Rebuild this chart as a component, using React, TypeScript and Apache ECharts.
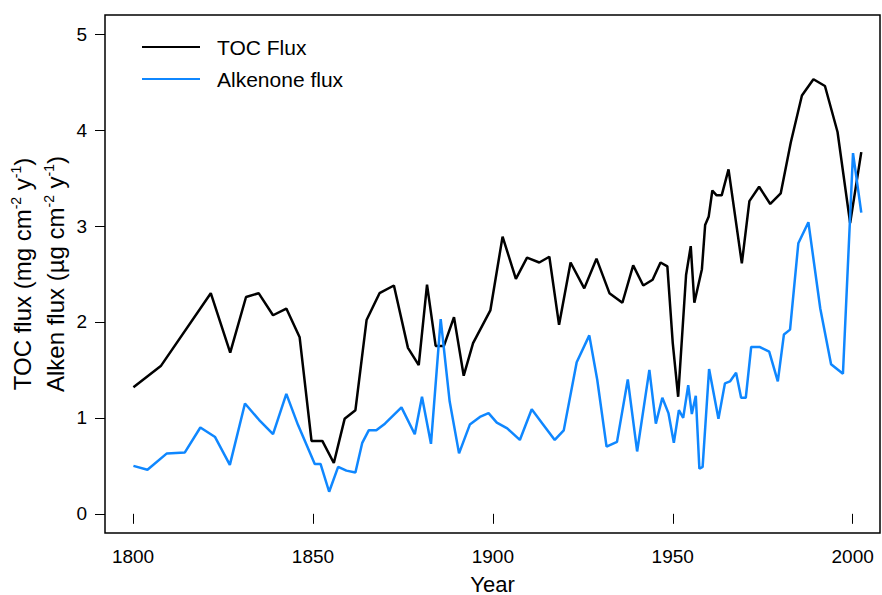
import React, { useEffect, useRef } from "react";
import * as echarts from "echarts";

// TOC flux (mg cm-2 y-1) by year
const tocYears = [
  1800.1, 1807.7, 1821.6, 1827.0, 1831.4, 1834.9, 1838.9, 1842.6, 1846.3, 1849.6,
  1852.6, 1855.8, 1858.8, 1861.8, 1864.9, 1868.5, 1872.5, 1876.4, 1879.4, 1881.7,
  1884.1, 1886.4, 1889.2, 1891.9, 1894.5, 1899.3, 1902.7, 1906.4, 1909.5, 1912.9,
  1915.7, 1918.4, 1921.6, 1925.4, 1928.8, 1932.4, 1936.0, 1939.0, 1941.8, 1944.4,
  1946.6, 1948.5, 1950.0, 1951.5, 1953.7, 1955.0, 1956.0, 1958.1, 1959.0, 1960.0,
  1961.0, 1962.2, 1963.6, 1965.5, 1969.2, 1971.3, 1974.0, 1977.1, 1980.0, 1982.8,
  1985.9, 1989.1, 1992.3, 1995.8, 1999.3, 2002.4,
];
const tocFlux = [
  1.32, 1.54, 2.30, 1.68, 2.26, 2.30, 2.07, 2.14, 1.84, 0.76,
  0.76, 0.53, 0.99, 1.08, 2.02, 2.30, 2.38, 1.73, 1.55, 2.39,
  1.75, 1.75, 2.05, 1.44, 1.78, 2.12, 2.89, 2.45, 2.67, 2.62,
  2.68, 1.97, 2.62, 2.35, 2.66, 2.30, 2.20, 2.59, 2.38, 2.44,
  2.62, 2.58, 1.78, 1.22, 2.49, 2.79, 2.20, 2.55, 3.01, 3.10,
  3.37, 3.32, 3.32, 3.59, 2.61, 3.26, 3.41, 3.23, 3.34, 3.87,
  4.36, 4.53, 4.46, 3.98, 3.03, 3.77,
];

// Alkenone flux (ug cm-2 y-1) by year
const alkYears = [
  1800.1, 1804.0, 1809.4, 1814.4, 1818.7, 1822.8, 1826.9, 1831.1, 1835.0, 1838.9,
  1842.6, 1845.8, 1850.5, 1852.1, 1854.5, 1857.0, 1859.3, 1861.8, 1863.7, 1865.5,
  1867.6, 1870.0, 1874.6, 1878.3, 1880.3, 1882.8, 1885.5, 1888.0, 1890.6, 1893.6,
  1896.4, 1898.8, 1901.1, 1904.0, 1907.5, 1910.8, 1913.8, 1917.2, 1919.7, 1923.3,
  1926.8, 1929.0, 1931.6, 1934.5, 1937.5, 1940.1, 1943.5, 1945.3, 1947.1, 1948.8,
  1950.3, 1951.7, 1952.9, 1954.3, 1955.3, 1956.4, 1957.4, 1958.3, 1960.1, 1962.7,
  1964.5, 1965.9, 1967.6, 1969.0, 1970.3, 1971.8, 1974.1, 1976.8, 1979.2, 1980.9,
  1982.6, 1984.9, 1987.7, 1991.0, 1994.0, 1997.3, 2000.1, 2002.4,
];
const alkFlux = [
  0.50, 0.46, 0.63, 0.64, 0.90, 0.80, 0.51, 1.15, 0.98, 0.83,
  1.25, 0.93, 0.52, 0.52, 0.23, 0.49, 0.45, 0.43, 0.74, 0.87,
  0.87, 0.94, 1.11, 0.83, 1.22, 0.73, 2.03, 1.17, 0.63, 0.93,
  1.01, 1.05, 0.95, 0.89, 0.77, 1.09, 0.94, 0.77, 0.87, 1.58,
  1.86, 1.40, 0.70, 0.75, 1.40, 0.65, 1.50, 0.94, 1.21, 1.05,
  0.74, 1.08, 1.00, 1.34, 1.04, 1.23, 0.47, 0.49, 1.51, 0.99,
  1.36, 1.38, 1.47, 1.21, 1.21, 1.74, 1.74, 1.69, 1.38, 1.87,
  1.92, 2.82, 3.04, 2.14, 1.56, 1.46, 3.76, 3.14,
];

const xTicks = [1800, 1850, 1900, 1950, 2000];
const yTicks = [0, 1, 2, 3, 4, 5];

const FONT = "'Liberation Sans', Arial, Helvetica, sans-serif";
const BLUE = "#0f87ff";

export default function App() {
  const ref = useRef<HTMLDivElement>(null);

  useEffect(() => {
    document.body.style.margin = "0";
    if (!ref.current) return;
    const chart = echarts.init(ref.current, null, { renderer: "svg" });

    const sup = { fontSize: 14, fontFamily: FONT, color: "#000", verticalAlign: "top", lineHeight: 27 };
    const norm = { fontSize: 24, fontFamily: FONT, color: "#000", lineHeight: 27 };

    chart.setOption({
      animation: false,
      backgroundColor: "#fff",
      grid: {
        left: 105,
        top: 15,
        right: 2,
        bottom: 62,
        outerBoundsMode: "none",
        containLabel: false,
        show: true,
        borderColor: "#000",
        borderWidth: 1.5,
        backgroundColor: "transparent",
      },
      legend: {
        orient: "vertical",
        left: 142,
        top: 36,
        padding: 0,
        icon: "rect",
        itemWidth: 58,
        itemHeight: 2,
        itemGap: 10,
        textStyle: {
          fontFamily: FONT,
          fontSize: 21,
          color: "#000",
          lineHeight: 22,
          padding: [0, 0, 0, 12],
        },
        data: ["TOC Flux", "Alkenone flux"],
      },
      xAxis: {
        type: "value",
        min: 1792.2,
        max: 2007.6,
        name: "Year",
        nameLocation: "middle",
        nameGap: 40,
        nameTextStyle: { fontFamily: FONT, fontSize: 22, color: "#000" },
        axisLine: { show: false },
        axisTick: {
          show: true,
          inside: false,
          length: 10,
          customValues: xTicks,
          lineStyle: { color: "#000", width: 1 },
        },
        axisLabel: {
          customValues: xTicks,
          formatter: (v: number) => String(v),
          margin: 14,
          fontFamily: FONT,
          fontSize: 19,
          color: "#000",
        },
        splitLine: { show: false },
      },
      yAxis: {
        type: "value",
        min: -0.2,
        max: 5.2,
        axisLine: { show: false },
        axisTick: {
          show: true,
          inside: false,
          length: 10,
          customValues: yTicks,
          lineStyle: { color: "#000", width: 1 },
        },
        axisLabel: {
          customValues: yTicks,
          formatter: (v: number) => String(v),
          margin: 18,
          fontFamily: FONT,
          fontSize: 19,
          color: "#000",
        },
        splitLine: { show: false },
      },
      graphic: [
        {
          type: "text",
          x: 22,
          y: 274,
          rotation: Math.PI / 2,
          style: {
            text: "{n|TOC flux (mg cm}{s|-2}{n| y}{s|-1}{n|)}",
            rich: { n: norm, s: sup },
            align: "center",
            verticalAlign: "middle",
          },
        },
        {
          type: "text",
          x: 55,
          y: 274,
          rotation: Math.PI / 2,
          style: {
            text: "{n|Alken flux (\u00b5g cm}{s|-2}{n| y}{s|-1}{n|)}",
            rich: { n: norm, s: sup },
            align: "center",
            verticalAlign: "middle",
          },
        },
      ],
      series: [
        {
          name: "TOC Flux",
          type: "line",
          data: tocYears.map((y, i) => [y, tocFlux[i]]),
          symbol: "none",
          color: "#000",
          lineStyle: { color: "#000", width: 2.5 },
        },
        {
          name: "Alkenone flux",
          type: "line",
          data: alkYears.map((y, i) => [y, alkFlux[i]]),
          symbol: "none",
          color: BLUE,
          lineStyle: { color: BLUE, width: 2.5 },
        },
      ],
    });

    return () => chart.dispose();
  }, []);

  return <div ref={ref} style={{ width: 882, height: 595 }} />;
}
